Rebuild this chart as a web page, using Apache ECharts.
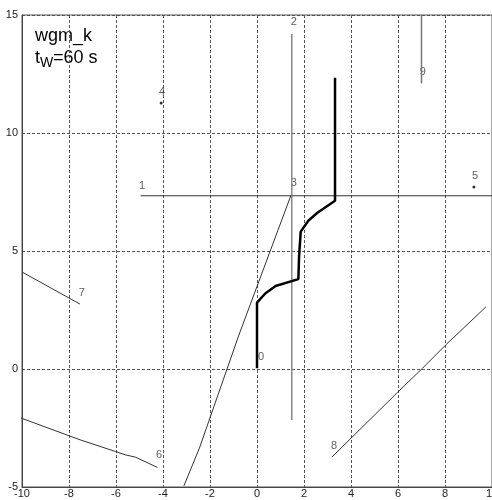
<!DOCTYPE html>
<html><head><meta charset="utf-8">
<script src="https://cdn.jsdelivr.net/npm/echarts@6/dist/echarts.min.js"></script>
<style>html,body{margin:0;padding:0;background:#fff}#c{width:492px;height:500px}</style>
</head><body><div id="c"></div>
<script>
var xTicks = [-10, -8, -6, -4, -2, 0, 2, 4, 6, 8, 10];
var yTicks = [-5, 0, 5, 10, 15];
var titleLine1 = 'wgm_k';
var titleLine2 = ['t', 'W', '=60 s'];

var traj0 = [[0, 0.03], [0, 2.81], [0.35, 3.2], [0.79, 3.52], [1.76, 3.81], [1.79, 4.76], [1.86, 5.82], [2.2, 6.3], [2.57, 6.62], [3.32, 7.13], [3.32, 12.34]];
var line1 = [[-4.95, 7.34], [10.2, 7.34]];
var line2 = [[1.48, 14.2], [1.48, -2.16]];
var line3 = [[1.45, 7.37], [-0.77, 1.44], [-2.45, -3.35], [-3.11, -4.95]];
var dot4 = [[-4.08, 11.27]];
var dot5 = [[9.23, 7.71]];
var line6 = [[-10.04, -2.08], [-7.5, -3.01], [-6.01, -3.5], [-5.59, -3.64], [-5.16, -3.74], [-4.24, -4.17]];
var line7 = [[-10.0, 4.11], [-7.53, 2.75]];
var line8 = [[3.19, -3.73], [5.97, -1.0], [7.04, 0.03], [8.03, 1.02], [9.74, 2.63]];
var line9 = [[7.0, 15.0], [7.0, 12.1]];
var labelNames = ['0', '1', '2', '3', '4', '5', '6', '7', '8', '9'];
var labelPos = [[0.17, 0.51], [-4.89, 7.75], [1.57, 14.7], [1.57, 7.88], [-4.04, 11.74], [9.28, 8.18], [-4.17, -3.64], [-7.45, 3.22], [3.28, -3.26], [7.06, 12.58]];

var chart = echarts.init(document.getElementById('c'), null, {renderer: 'canvas'});
function ln(data, color, width) {
  return {type: 'line', data: data, showSymbol: false, symbol: 'none', silent: true, animation: false,
    lineStyle: {color: color, width: width}, clip: true};
}
var labelData = labelPos.map(function (p, i) { return {value: p, name: labelNames[i]}; });
var font = 'Liberation Sans, Arial, sans-serif';
chart.setOption({
  animation: false,
  grid: {left: 22, top: 15, width: 470, height: 472, outerBoundsMode: 'none', containLabel: false,
    show: true, borderColor: '#555', borderWidth: 1, backgroundColor: 'transparent'},
  xAxis: {type: 'value', min: -10, max: 10, interval: 2,
    axisLine: {show: true, onZero: false, lineStyle: {color: '#444'}},
    axisTick: {show: false},
    axisLabel: {color: '#222', fontSize: 11, fontFamily: font, margin: 1,
      formatter: function (v) { return xTicks.indexOf(v) >= 0 ? String(v) : ''; }},
    splitLine: {show: true, lineStyle: {color: '#555', type: [3, 2], width: 1}}},
  yAxis: {type: 'value', min: -5, max: 15, interval: 5,
    axisLine: {show: true, onZero: false, lineStyle: {color: '#444'}},
    axisTick: {show: false},
    axisLabel: {color: '#222', fontSize: 11, fontFamily: font, margin: 4,
      formatter: function (v) { return yTicks.indexOf(v) >= 0 ? String(v) : ''; }},
    splitLine: {show: true, lineStyle: {color: '#555', type: [3, 2], width: 1}}},
  series: [
    ln(line1, '#333', 1),
    ln(line2, '#888', 1.5),
    ln(line3, '#333', 1),
    ln(line6, '#333', 1),
    ln(line7, '#333', 1),
    ln(line8, '#333', 1),
    ln(line9, '#777', 1.5),
    ln(traj0, '#000', 2.5),
    {type: 'scatter', data: dot4.concat(dot5), symbolSize: 3, itemStyle: {color: '#000'}, silent: true},
    {type: 'scatter', data: labelData, symbolSize: 0, silent: true,
      label: {show: true, position: 'inside', formatter: '{b}', color: '#333', fontSize: 11, fontFamily: font}}
  ],
  graphic: [
    {type: 'text', left: 35, top: 27, style: {text: titleLine1, font: '18px ' + font, fill: '#000'}},
    {type: 'text', x: 35, y: 58, style: {text: titleLine2[0], font: '18px ' + font, fill: '#000', verticalAlign: 'middle'}},
    {type: 'text', x: 40, y: 63.5, style: {text: titleLine2[1], font: '14px ' + font, fill: '#000', verticalAlign: 'middle'}},
    {type: 'text', x: 53, y: 58, style: {text: titleLine2[2], font: '18px ' + font, fill: '#000', verticalAlign: 'middle'}}
  ]
});
</script></body></html>
